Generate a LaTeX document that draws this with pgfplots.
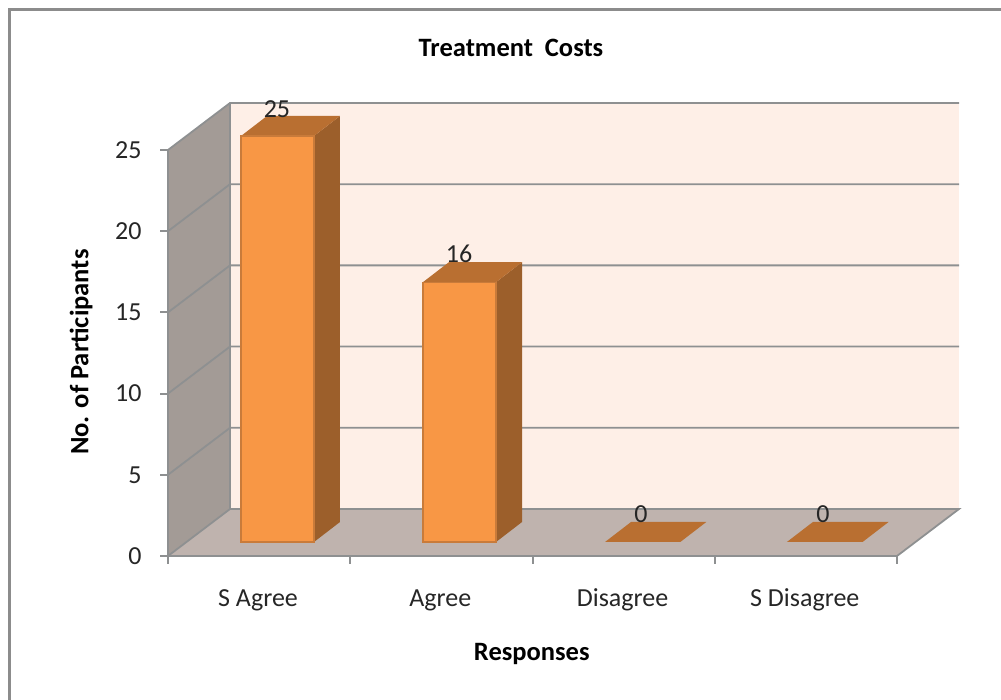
\documentclass[border=0pt]{standalone}
\usepackage{fontspec}
\setmainfont{Carlito}
\usepackage{pgfplots}
\pgfplotsset{compat=1.18}
\definecolor{wallback}{HTML}{FEEFE7}
\definecolor{wallleft}{HTML}{A39B96}
\definecolor{wallfloor}{HTML}{BFB3AE}
\definecolor{gridgray}{HTML}{8E9091}
\definecolor{barfront}{HTML}{F89745}
\definecolor{barside}{HTML}{9C5F2B}
\definecolor{bartop}{HTML}{B96F31}
\definecolor{baredge}{HTML}{C97B3A}
\begin{document}
\begin{tikzpicture}
\useasboundingbox (0,0) rectangle (1001pt,700pt);
\draw[gray!90, line width=3pt] (9.5pt,-5pt) -- (9.5pt,690.5pt) -- (1006pt,690.5pt);
\begin{axis}[
    at={(168pt,144pt)}, anchor=south west,
    scale only axis, width=729pt, height=406pt,
    xmin=0, xmax=4, ymin=0, ymax=25,
    clip=false, axis on top,
    axis lines*=left,
    axis line style={draw=gridgray, line width=2pt, -},
    tick style={draw=gridgray, line width=2pt},
    major tick length=8pt,
    tick align=outside,
    /pgf/number format/assume math mode=true,
    font=\fontsize{26}{30}\selectfont,
    color=black!85,
    ytick={0,5,10,15,20,25},
    yticklabel style={xshift=-15pt},
    xtick={0,1,2,3,4},
    xticklabels={},
    extra x ticks={0.494,1.494,2.494,3.494},
    extra x tick labels={S Agree,Agree,Disagree,S Disagree},
    extra x tick style={major tick length=0pt, tick style={draw=none},
        xticklabel style={anchor=center, yshift=-44pt}},
    title={\textbf{Treatment\ \ Costs}},
    title style={at={(axis description cs:0.4705,1.2365)}, anchor=center, black, font=\fontsize{26.5}{30}\selectfont},
    xlabel={\textbf{Responses}},
    xlabel style={at={(axis description cs:0.499,-0.241)}, anchor=center, black, font=\fontsize{26.5}{30}\selectfont},
    ylabel={\textbf{No. of Participants}},
    ylabel style={at={(axis description cs:-0.119,0.502)}, anchor=center, rotate=0, black, font=\fontsize{26.5}{30}\selectfont},
]
% walls
\addplot[fill=wallback, draw=none] coordinates {(0.3402,2.894) (4.3402,2.894) (4.3402,27.894) (0.3402,27.894)} -- cycle;
\addplot[fill=wallleft, draw=none] coordinates {(0,0) (0.3402,2.894) (0.3402,27.894) (0,25)} -- cycle;
\addplot[fill=wallfloor, draw=none] coordinates {(0,0) (4,0) (4.3402,2.894) (0.3402,2.894)} -- cycle;
% grid lines
\addplot[gridgray, line width=1.8pt] coordinates {(0,0) (0.3402,2.894) (4.3402,2.894) (4,0)};
\addplot[gridgray, line width=1.8pt] coordinates {(0,5) (0.3402,7.894) (4.3402,7.894)};
\addplot[gridgray, line width=1.8pt] coordinates {(0,10) (0.3402,12.894) (4.3402,12.894)};
\addplot[gridgray, line width=1.8pt] coordinates {(0,15) (0.3402,17.894) (4.3402,17.894)};
\addplot[gridgray, line width=1.8pt] coordinates {(0,20) (0.3402,22.894) (4.3402,22.894)};
\addplot[gridgray, line width=1.8pt] coordinates {(0,25) (0.3402,27.894) (4.3402,27.894)};
\addplot[gridgray, line width=1.8pt] coordinates {(0.3402,2.894) (0.3402,27.894)};
% S Agree = 25
\addplot[fill=barside, draw=none] coordinates {(0.801,0.862) (0.9437,2.094) (0.9437,27.094) (0.801,25.862)} -- cycle;
\addplot[fill=bartop, draw=none] coordinates {(0.4005,25.862) (0.801,25.862) (0.9437,27.094) (0.5432,27.094)} -- cycle;
\addplot[fill=barfront, draw=baredge, line width=1.2pt] coordinates {(0.4005,0.862) (0.801,0.862) (0.801,25.862) (0.4005,25.862)} -- cycle;
% Agree = 16
\addplot[fill=barside, draw=none] coordinates {(1.800,0.862) (1.9427,2.094) (1.9427,18.094) (1.800,16.862)} -- cycle;
\addplot[fill=bartop, draw=none] coordinates {(1.399,16.862) (1.800,16.862) (1.9427,18.094) (1.5417,18.094)} -- cycle;
\addplot[fill=barfront, draw=baredge, line width=1.2pt] coordinates {(1.399,0.862) (1.800,0.862) (1.800,16.862) (1.399,16.862)} -- cycle;
% Disagree and S Disagree = 0
\addplot[fill=bartop, draw=none] coordinates {(2.398,0.862) (2.811,0.862) (2.9537,2.094) (2.5407,2.094)} -- cycle;
\addplot[fill=bartop, draw=none] coordinates {(3.396,0.862) (3.811,0.862) (3.9537,2.094) (3.5387,2.094)} -- cycle;
% value labels
\addplot[draw=none, mark=none, point meta=explicit symbolic,
    nodes near coords, nodes near coords align={center},
    every node near coord/.append style={font=\fontsize{26}{30}\selectfont, black!85}]
    table[x=x, y=y, meta=v] {
x y v
0.598 27.52 25
1.597 18.6 16
2.595 2.586 0
3.594 2.586 0
};
\end{axis}
\end{tikzpicture}
\end{document}
